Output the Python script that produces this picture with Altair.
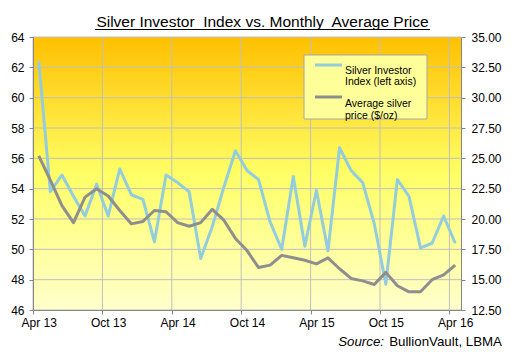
import altair as alt
import pandas as pd

# ---------------- data ----------------
months = ["Apr 13", "May 13", "Jun 13", "Jul 13", "Aug 13", "Sep 13", "Oct 13", "Nov 13", "Dec 13",
          "Jan 14", "Feb 14", "Mar 14", "Apr 14", "May 14", "Jun 14", "Jul 14", "Aug 14", "Sep 14",
          "Oct 14", "Nov 14", "Dec 14", "Jan 15", "Feb 15", "Mar 15", "Apr 15", "May 15", "Jun 15",
          "Jul 15", "Aug 15", "Sep 15", "Oct 15", "Nov 15", "Dec 15", "Jan 16", "Feb 16", "Mar 16",
          "Apr 16"]
investor_index = [62.4, 53.8, 54.9, 53.5, 52.2, 54.3, 52.2, 55.3, 53.6,
                  53.3, 50.5, 54.9, 54.4, 53.8, 49.4, 51.5, 54.1, 56.5,
                  55.2, 54.6, 51.8, 50.0, 54.8, 50.2, 53.9, 49.9, 56.7,
                  55.2, 54.4, 51.7, 47.7, 54.6, 53.5, 50.1, 50.4, 52.2,
                  50.4]
silver_price = [25.2, 23.2, 21.1, 19.7, 21.8, 22.5, 21.9, 20.7, 19.6,
                19.8, 20.7, 20.6, 19.7, 19.4, 19.7, 20.8, 19.9, 18.4,
                17.4, 16.0, 16.2, 17.0, 16.8, 16.6, 16.3, 16.8, 15.9,
                15.1, 14.9, 14.6, 15.6, 14.5, 14.0, 14.0, 15.0, 15.4,
                16.2]
x_tick_labels = ["Apr 13", "Oct 13", "Apr 14", "Oct 14", "Apr 15", "Oct 15", "Apr 16"]
x_tick_values = [0, 6, 12, 18, 24, 30, 36]
left_ticks = [46, 48, 50, 52, 54, 56, 58, 60, 62, 64]
right_ticks = [12.5, 15.0, 17.5, 20.0, 22.5, 25.0, 27.5, 30.0, 32.5, 35.0]

title_text = "Silver Investor\u00a0 Index vs. Monthly\u00a0 Average Price"
legend_labels = ["Silver Investor\nIndex (left axis)", "Average silver\nprice ($/oz)"]

# ---------------- layout / style ----------------
W, H = 428, 273
FONT = "Liberation Sans"
BLUE = "#93CDDD"
GREY = "#8E8E8E"
GRID = "#BFBFBF"
AXIS = "#868686"

df = pd.DataFrame({"idx": range(len(months)), "month": months,
                   "sii": investor_index, "price": silver_price})
df["pos"] = df["idx"] + 0.5

one = pd.DataFrame({"a": [0]})
hgrid = pd.DataFrame({"v": left_ticks})
vgrid = pd.DataFrame({"v": x_tick_values})

x_scale = alt.Scale(domain=[0, len(months)], nice=False, zero=False)
label_arr = "[" + ",".join("'%s'" % s for s in x_tick_labels) + "]"
x_axis = alt.Axis(values=x_tick_values, labelExpr=label_arr + "[datum.value / 6]",
                  labelOffset=W / len(months) / 2, labelFlush=False, labelOverlap=False,
                  grid=False, title=None, orient="bottom", tickSize=4, labelPadding=3, zindex=1)
yl_scale = alt.Scale(domain=[46, 64], nice=False, zero=False)
yr_scale = alt.Scale(domain=[12.5, 35], nice=False, zero=False)

bg = alt.Chart(one).mark_rect(
    color=alt.LinearGradient(
        gradient="linear",
        stops=[alt.GradientStop(color="#FFC000", offset=0),
               alt.GradientStop(color="#FFFF66", offset=0.5),
               alt.GradientStop(color="#FFFFCC", offset=1)],
        x1=0, x2=0, y1=0, y2=1)
).encode(x=alt.value(0), x2=alt.value(W), y=alt.value(0), y2=alt.value(H))

grid_h = alt.Chart(hgrid).mark_rule(color=GRID, strokeWidth=1).encode(
    y=alt.Y("v:Q", scale=yl_scale, axis=None), x=alt.value(0), x2=alt.value(W))
grid_v = alt.Chart(vgrid).mark_rule(color=GRID, strokeWidth=1).encode(
    x=alt.X("v:Q", scale=x_scale, axis=x_axis), y=alt.value(0), y2=alt.value(H))

line_sii = alt.Chart(df).mark_line(color=BLUE, strokeWidth=3, strokeJoin="round").encode(
    x=alt.X("pos:Q", scale=x_scale, axis=x_axis),
    y=alt.Y("sii:Q", scale=yl_scale,
            axis=alt.Axis(orient="left", values=left_ticks, format="d", grid=False, title=None,
                          tickSize=4, labelPadding=5, zindex=1)))
line_price = alt.Chart(df).mark_line(color=GREY, strokeWidth=3, strokeJoin="round").encode(
    x=alt.X("pos:Q", scale=x_scale, axis=x_axis),
    y=alt.Y("price:Q", scale=yr_scale,
            axis=alt.Axis(orient="right", values=right_ticks, format=".2f", grid=False, title=None,
                          tickSize=4, labelPadding=6, zindex=1)))

# legend (manual box)
leg_box = alt.Chart(one).mark_rect(fill="#FFFF99", stroke="#A6A6A6", strokeWidth=1).encode(
    x=alt.value(271), x2=alt.value(394), y=alt.value(18), y2=alt.value(82))
leg_sym1 = alt.Chart(one).mark_rule(color=BLUE, strokeWidth=3).encode(
    x=alt.value(282), x2=alt.value(309), y=alt.value(28))
leg_sym2 = alt.Chart(one).mark_rule(color=GREY, strokeWidth=3).encode(
    x=alt.value(282), x2=alt.value(309), y=alt.value(60))
leg_txt1 = alt.Chart(one).mark_text(align="left", baseline="middle", font=FONT, fontSize=10.5,
                                    lineBreak="\n", lineHeight=11.7, color="#000").encode(
    x=alt.value(312), y=alt.value(33.8), text=alt.value(legend_labels[0]))
leg_txt2 = alt.Chart(one).mark_text(align="left", baseline="middle", font=FONT, fontSize=10.5,
                                    lineBreak="\n", lineHeight=11.7, color="#000").encode(
    x=alt.value(312), y=alt.value(67.2), text=alt.value(legend_labels[1]))

# title with underline
title = alt.Chart(one).mark_text(align="center", baseline="alphabetic", font=FONT, fontSize=15.5,
                                 color="#000").encode(
    x=alt.value(229.5), y=alt.value(-10.3), text=alt.value(title_text))
underline = alt.Chart(one).mark_rule(color="#000", strokeWidth=1).encode(
    x=alt.value(62), x2=alt.value(397), y=alt.value(-7.5))

# source note
src1 = alt.Chart(one).mark_text(align="right", baseline="alphabetic", font=FONT, fontSize=13.3,
                                fontStyle="italic", color="#000").encode(
    x=alt.value(351), y=alt.value(308.5), text=alt.value("Source:"))
src2 = alt.Chart(one).mark_text(align="right", baseline="alphabetic", font=FONT, fontSize=13.3,
                                color="#000").encode(
    x=alt.value(469), y=alt.value(308.5), text=alt.value("BullionVault, LBMA"))

chart = alt.layer(
    bg, grid_h, grid_v, line_sii, line_price,
    leg_box, leg_sym1, leg_sym2, leg_txt1, leg_txt2,
    title, underline, src1, src2
).resolve_scale(y="independent").properties(
    width=W, height=H,
    autosize=alt.AutoSizeParams(type="none"),
    padding={"left": 25, "top": 29, "right": 42, "bottom": 41},
    background="white"
).configure_view(stroke=None).configure_axis(
    domainColor=AXIS, tickColor=AXIS, labelFont=FONT, labelFontSize=12, labelColor="#000",
    domainWidth=1, tickWidth=1
)

chart.save("out.html", embed_options={"renderer": "svg", "actions": False})
